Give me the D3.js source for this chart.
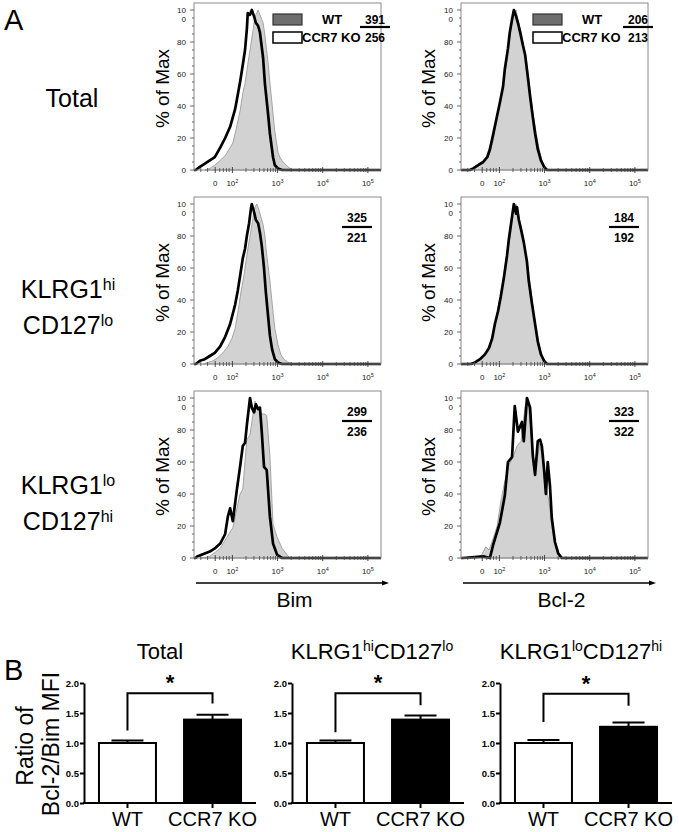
<!DOCTYPE html>
<html><head><meta charset="utf-8">
<script src="https://cdn.jsdelivr.net/npm/d3@7"></script>
<style>
body{margin:0;background:#fff}
svg{display:block}
text{font-family:"Liberation Sans",Arial,Helvetica,sans-serif}
</style>
</head><body>
<svg id="chart" width="679" height="832"></svg>
<script>
// ---------------- DATA ----------------
// Panel A: histograms, x = position in display decades (biexponential axis), y = % of Max
const rowLabels = [["Total"], ["KLRG1","hi","CD127","lo"], ["KLRG1","lo","CD127","hi"]];
const markerNames = ["Bim", "Bcl-2"];
const legendNames = ["WT", "CCR7 KO"];
const xTickValues = [1.62, 2, 3, 4, 5];
const xTickBase = ["0", "10", "10", "10", "10"];
const xTickExp = ["", "2", "3", "4", "5"];
const yTickValues = [0, 20, 40, 60, 80, 100];

const mfiWT = [[391, 206], [325, 184], [299, 323]];
const mfiKO = [[256, 213], [221, 192], [236, 322]];

const bimKO_total = [[1.19,0],[1.28,2],[1.39,4],[1.50,6],[1.61,8],[1.73,14],[1.84,20],[1.95,27],[2.06,38],[2.10,44],[2.17,55],[2.21,62],[2.28,75],[2.32,88],[2.34,98],[2.39,97],[2.43,100],[2.48,96],[2.52,92],[2.57,90],[2.61,86],[2.68,70],[2.72,54],[2.79,35],[2.83,23],[2.90,8],[2.94,3],[3.01,1],[3.10,0]];
const bimWT_total = [[1.39,0],[1.50,1],[1.61,3],[1.73,6],[1.84,9],[1.95,14],[2.01,17],[2.08,25],[2.17,37],[2.23,48],[2.28,54],[2.34,66],[2.39,75],[2.46,88],[2.50,96],[2.54,98],[2.57,100],[2.61,97],[2.65,94],[2.68,92],[2.72,84],[2.79,67],[2.83,55],[2.90,35],[2.94,24],[3.01,11],[3.05,8],[3.12,5],[3.16,4],[3.23,2],[3.32,0]];
const bclKO_total = [[1.19,0],[1.35,0],[1.42,1],[1.53,3],[1.64,5],[1.73,8],[1.79,13],[1.86,22],[1.92,30],[2.01,42],[2.08,52],[2.12,63],[2.19,76],[2.23,86],[2.28,94],[2.32,100],[2.37,96],[2.41,92],[2.46,86],[2.52,78],[2.57,72],[2.63,58],[2.68,46],[2.74,33],[2.79,23],[2.85,13],[2.92,6],[2.99,2],[3.05,0]];
const bclWT_total = [[1.28,0],[1.46,1],[1.57,3],[1.68,5],[1.77,9],[1.86,18],[1.92,28],[2.01,42],[2.08,53],[2.15,66],[2.21,80],[2.28,93],[2.32,99],[2.37,100],[2.41,94],[2.48,86],[2.54,78],[2.61,66],[2.68,50],[2.74,36],[2.81,24],[2.88,13],[2.94,6],[3.01,2],[3.10,0]];

const bimKO_hilo = [[1.19,0],[1.28,2],[1.39,3],[1.50,5],[1.61,7],[1.73,11],[1.84,17],[1.95,25],[2.06,37],[2.12,46],[2.17,55],[2.23,66],[2.28,72],[2.32,80],[2.37,88],[2.41,97],[2.43,100],[2.48,95],[2.52,90],[2.57,88],[2.61,82],[2.65,74],[2.70,60],[2.74,45],[2.79,30],[2.83,18],[2.88,9],[2.94,3],[3.01,1],[3.10,0]];
const bimWT_hilo = [[1.35,0],[1.46,1],[1.57,2],[1.68,4],[1.79,7],[1.90,11],[1.99,16],[2.06,22],[2.12,32],[2.19,45],[2.26,56],[2.32,68],[2.39,80],[2.46,92],[2.50,98],[2.54,100],[2.59,96],[2.63,92],[2.68,87],[2.72,80],[2.76,68],[2.83,52],[2.88,38],[2.94,22],[3.01,12],[3.07,6],[3.14,3],[3.23,1],[3.32,0]];
const bclKO_hilo = [[1.19,0],[1.37,0],[1.46,1],[1.57,3],[1.68,6],[1.77,10],[1.84,16],[1.90,25],[1.97,33],[2.03,42],[2.10,54],[2.17,68],[2.21,78],[2.26,88],[2.30,96],[2.32,100],[2.37,94],[2.39,98],[2.43,90],[2.48,84],[2.54,76],[2.61,64],[2.65,52],[2.72,38],[2.79,25],[2.85,14],[2.92,6],[2.99,2],[3.05,0]];
const bclWT_hilo = [[1.28,0],[1.44,1],[1.55,3],[1.66,5],[1.75,9],[1.84,16],[1.92,28],[2.01,41],[2.08,53],[2.15,66],[2.21,80],[2.28,92],[2.32,98],[2.37,100],[2.41,95],[2.48,86],[2.54,77],[2.61,64],[2.68,50],[2.74,36],[2.81,23],[2.88,12],[2.94,5],[3.01,2],[3.10,0]];

const bimKO_lohi = [[1.19,0],[1.22,1],[1.50,4],[1.61,6],[1.73,9],[1.84,15],[1.90,26],[1.95,31],[2.01,23],[2.10,43],[2.17,57],[2.23,70],[2.28,72],[2.32,83],[2.39,100],[2.43,94],[2.48,91],[2.52,96],[2.57,93],[2.61,94],[2.65,79],[2.70,57],[2.76,55],[2.83,26],[2.90,9],[2.99,2],[3.10,0]];
const bimWT_lohi = [[1.30,0],[1.50,1],[1.73,6],[1.88,13],[2.01,19],[2.17,40],[2.23,43],[2.32,74],[2.39,77],[2.50,98],[2.57,94],[2.65,90],[2.72,90],[2.76,89],[2.83,64],[2.90,21],[2.99,13],[3.10,6],[3.21,2],[3.27,0]];
const bclKO_lohi = [[1.19,0],[1.64,1],[1.79,0],[1.86,8],[2.01,22],[2.12,39],[2.19,60],[2.28,63],[2.34,95],[2.41,79],[2.50,85],[2.54,73],[2.61,100],[2.68,94],[2.74,64],[2.79,52],[2.85,73],[2.90,74],[2.94,70],[2.99,55],[3.03,40],[3.07,60],[3.12,45],[3.16,25],[3.23,10],[3.30,3],[3.38,0]];
const bclWT_lohi = [[1.19,0],[1.50,0],[1.61,2],[1.70,7],[1.77,5],[1.86,12],[1.95,20],[2.03,35],[2.12,48],[2.21,58],[2.30,63],[2.39,70],[2.48,73],[2.57,95],[2.63,98],[2.70,80],[2.76,55],[2.83,60],[2.90,72],[2.96,60],[3.03,45],[3.10,35],[3.16,20],[3.23,10],[3.32,3],[3.41,0]];

// Panel B: Bcl-2/Bim MFI ratio
const barCategories = ["WT", "CCR7 KO"];
const barMeanWT = [1.00, 1.00, 1.00];
const barErrWT = [0.04, 0.04, 0.05];
const barMeanKO = [1.39, 1.39, 1.27];
const barErrKO = [0.08, 0.07, 0.07];
const bracketTop = [1.83, 1.83, 1.82];
const bracketWTLeg = [1.21, 1.18, 1.35];
const bracketKOLeg = [1.66, 1.63, 1.62];
const barTicks = [0, 0.5, 1.0, 1.5, 2.0];

// ---------------- LAYOUT ----------------
const svg = d3.select("#chart");
const FONT = '"Liberation Sans",Arial,Helvetica,sans-serif';
const colX = [194, 461];
const rowBase = [170, 364, 558];
const frameW = 187, frameH = 167, plotH = 160;

const x = d3.scaleLinear().domain([1.15, 5.29]).range([0, frameW]);
const y = d3.scaleLinear().domain([0, 100]).range([0, -plotH]);

const hist = [
  [[bimWT_total, bimKO_total], [bclWT_total, bclKO_total]],
  [[bimWT_hilo, bimKO_hilo], [bclWT_hilo, bclKO_hilo]],
  [[bimWT_lohi, bimKO_lohi], [bclWT_lohi, bclKO_lohi]]
];

// panel letters
svg.append("text").attr("x", 4).attr("y", 30).attr("font-size", 29).text("A");
svg.append("text").attr("x", 4).attr("y", 680).attr("font-size", 29).text("B");

// row labels
function supText(sel, parts, supSize) {
  parts.forEach((p, i) => {
    const t = sel.append("tspan").text(p);
    if (i % 2 === 1) t.attr("font-size", supSize).attr("baseline-shift", "super");
  });
}
const rowLabelY = [[107], [298, 334], [494, 530]];
rowLabels.forEach((parts, r) => {
  if (parts.length === 1) {
    svg.append("text").attr("x", 72).attr("y", rowLabelY[r][0]).attr("text-anchor", "middle")
      .attr("font-size", 25).text(parts[0]);
  } else {
    for (let k = 0; k < 2; k++) {
      const t = svg.append("text").attr("x", 68).attr("y", rowLabelY[r][k]).attr("text-anchor", "middle")
        .attr("font-size", 25);
      supText(t, [parts[2 * k], parts[2 * k + 1]], 16);
    }
  }
});

const areaGen = d3.area().x(d => x(d[0])).y0(y(0)).y1(d => y(d[1]));
const lineGen = d3.line().x(d => x(d[0])).y(d => y(d[1]));
const xDom = x.domain();

for (let r = 0; r < 3; r++) {
  for (let c = 0; c < 2; c++) {
    const g = svg.append("g").attr("transform", `translate(${colX[c]},${rowBase[r]})`);
    const [wt, ko] = hist[r][c];
    // WT filled
    g.append("path").datum(wt).attr("d", areaGen).attr("fill", "#d2d2d2")
      .attr("stroke", "#9c9c9c").attr("stroke-width", 0.9);
    // KO line (continues along baseline to the frame edges)
    const koFull = [[xDom[0], 0]].concat(ko, [[xDom[1], 0]]);
    g.append("path").datum(koFull).attr("d", lineGen).attr("fill", "none")
      .attr("stroke", "#000").attr("stroke-width", 2.7).attr("stroke-linejoin", "round");
    // frame
    g.append("rect").attr("x", 0).attr("y", -frameH).attr("width", frameW).attr("height", frameH)
      .attr("fill", "none").attr("stroke", "#8a8a8a").attr("stroke-width", 1);
    // y ticks
    d3.range(0, 101, 5).forEach(v => {
      g.append("line").attr("x1", 0).attr("x2", v % 20 === 0 ? -4 : -2)
        .attr("y1", y(v)).attr("y2", y(v)).attr("stroke", "#444").attr("stroke-width", 0.8);
    });
    yTickValues.forEach(v => {
      if (v === 100) {
        g.append("text").attr("x", -8).attr("y", y(v) + 3).attr("text-anchor", "end")
          .attr("font-size", 8).attr("fill", "#222").text("10");
        g.append("text").attr("x", -8).attr("y", y(v) + 12).attr("text-anchor", "end")
          .attr("font-size", 8).attr("fill", "#222").text("0");
      } else {
        g.append("text").attr("x", -8).attr("y", y(v) + 3).attr("text-anchor", "end")
          .attr("font-size", 8).attr("fill", "#222").text(v);
      }
    });
    // x ticks: major + log minor
    const minor = [];
    [2, 3, 4].forEach(d => d3.range(2, 10).forEach(k => minor.push(d + Math.log10(k))));
    [1.3, 1.45, 1.72, 1.8, 1.87, 1.93].forEach(v => minor.push(v));
    minor.forEach(v => g.append("line").attr("x1", x(v)).attr("x2", x(v)).attr("y1", -2).attr("y2", 2)
      .attr("stroke", "#444").attr("stroke-width", 0.8));
    xTickValues.forEach((v, i) => {
      g.append("line").attr("x1", x(v)).attr("x2", x(v)).attr("y1", -3).attr("y2", 3)
        .attr("stroke", "#333").attr("stroke-width", 0.9);
      const t = g.append("text").attr("x", x(v)).attr("y", 16).attr("text-anchor", "middle")
        .attr("font-size", 8).attr("fill", "#222");
      t.append("tspan").text(xTickBase[i]);
      if (xTickExp[i]) t.append("tspan").attr("font-size", 5.5).attr("dy", -3).text(xTickExp[i]);
    });
    // y label
    g.append("text").attr("transform", `translate(${c === 0 ? -25 : -26},${-frameH / 2 + 2}) rotate(-90)`)
      .attr("text-anchor", "middle").attr("font-size", 19).text("% of Max");
    // MFI numbers
    const numX = r === 0 ? (c === 0 ? 181 : 177) : 163;
    const y1 = r === 0 ? -frameH + 21 : -frameH + 25;
    const y2 = r === 0 ? -frameH + 39 : -frameH + 45;
    const ly = r === 0 ? -frameH + 24 : -frameH + 30;
    g.append("text").attr("x", numX).attr("y", y1).attr("text-anchor", "middle")
      .attr("font-size", 12).attr("font-weight", "bold").text(mfiWT[r][c]);
    g.append("line").attr("x1", numX - 15).attr("x2", numX + 15).attr("y1", ly).attr("y2", ly)
      .attr("stroke", "#000").attr("stroke-width", 2.2);
    g.append("text").attr("x", numX).attr("y", y2).attr("text-anchor", "middle")
      .attr("font-size", 12).attr("font-weight", "bold").text(mfiKO[r][c]);
    // legend
    if (r === 0) {
      const lx = c === 0 ? 79 : 72;
      g.append("rect").attr("x", lx).attr("y", -frameH + 11).attr("width", 29).attr("height", 11)
        .attr("fill", "#6e6e6e").attr("stroke", "#333").attr("stroke-width", 1.2);
      g.append("rect").attr("x", lx).attr("y", -frameH + 29).attr("width", 29).attr("height", 11)
        .attr("fill", "#fff").attr("stroke", "#000").attr("stroke-width", 1.5);
      g.append("text").attr("x", lx + 49).attr("y", -frameH + 21).attr("font-size", 13)
        .attr("font-weight", "bold").text(legendNames[0]);
      g.append("text").attr("x", lx + 29).attr("y", -frameH + 39).attr("font-size", 13)
        .attr("font-weight", "bold").text(legendNames[1]);
    }
    // bottom axis arrow + title
    if (r === 2) {
      const ay = 25;
      g.append("line").attr("x1", 2).attr("x2", frameW + 4).attr("y1", ay).attr("y2", ay)
        .attr("stroke", "#000").attr("stroke-width", 1.5);
      g.append("path").attr("d", `M${frameW + 8},${ay} L${frameW + 1},${ay - 2.5} L${frameW + 1},${ay + 2.5} Z`)
        .attr("fill", "#000");
      g.append("text").attr("x", frameW / 2 + 7).attr("y", 49).attr("text-anchor", "middle")
        .attr("font-size", 21).text(markerNames[c]);
    }
  }
}

// ---------------- PANEL B ----------------
const barAxisX = [84, 292, 500];
const yb = d3.scaleLinear().domain([0, 2]).range([803, 683]);
const xb = d3.scaleBand().domain(barCategories).range([0, 172]).paddingInner(0.33).paddingOuter(0.176);

svg.append("text").attr("transform", "translate(33,746) rotate(-90)").attr("text-anchor", "middle")
  .attr("font-size", 23).text("Ratio of");
svg.append("text").attr("transform", "translate(59,744) rotate(-90)").attr("text-anchor", "middle")
  .attr("font-size", 23).text("Bcl-2/Bim MFI");

const titleCenters = [160, 372, 581];
rowLabels.forEach((parts, i) => {
  const t = svg.append("text").attr("x", titleCenters[i]).attr("y", 659).attr("text-anchor", "middle")
    .attr("font-size", 22);
  supText(t, parts, 14);
});

for (let i = 0; i < 3; i++) {
  const g = svg.append("g").attr("transform", `translate(${barAxisX[i]},0)`);
  const means = [barMeanWT[i], barMeanKO[i]];
  const errs = [barErrWT[i], barErrKO[i]];
  barCategories.forEach((cat, j) => {
    const cx = xb(cat) + xb.bandwidth() / 2;
    // error bar (upper)
    g.append("line").attr("x1", cx).attr("x2", cx).attr("y1", yb(means[j])).attr("y2", yb(means[j] + errs[j]))
      .attr("stroke", "#000").attr("stroke-width", 2);
    g.append("line").attr("x1", cx - 16).attr("x2", cx + 16).attr("y1", yb(means[j] + errs[j]))
      .attr("y2", yb(means[j] + errs[j])).attr("stroke", "#000").attr("stroke-width", 2);
    g.append("rect").attr("x", xb(cat)).attr("y", yb(means[j])).attr("width", xb.bandwidth())
      .attr("height", yb(0) - yb(means[j])).attr("fill", j === 0 ? "#fff" : "#000")
      .attr("stroke", "#000").attr("stroke-width", 2);
    // category tick and label
    g.append("line").attr("x1", cx).attr("x2", cx).attr("y1", yb(0)).attr("y2", yb(0) + 5)
      .attr("stroke", "#000").attr("stroke-width", 2);
    g.append("text").attr("x", cx).attr("y", 826).attr("text-anchor", "middle")
      .attr("font-size", 20).text(cat);
  });
  // axes
  const ax = g.append("g").call(d3.axisLeft(yb).tickValues(barTicks).tickFormat(d3.format(".1f")).tickSize(4).tickSizeOuter(0));
  ax.select(".domain").attr("stroke-width", 2);
  ax.selectAll(".tick line").attr("stroke-width", 2);
  ax.selectAll(".tick text").attr("font-size", 9.5).attr("font-weight", "bold")
    .attr("font-family", FONT).attr("x", -5);
  g.append("line").attr("x1", -1).attr("x2", 172).attr("y1", yb(0)).attr("y2", yb(0))
    .attr("stroke", "#000").attr("stroke-width", 2);
  // significance bracket
  const wx = xb("WT") + xb.bandwidth() / 2, kx = xb("CCR7 KO") + xb.bandwidth() / 2;
  g.append("path")
    .attr("d", `M${wx},${yb(bracketWTLeg[i])} L${wx},${yb(bracketTop[i])} L${kx},${yb(bracketTop[i])} L${kx},${yb(bracketKOLeg[i])}`)
    .attr("fill", "none").attr("stroke", "#000").attr("stroke-width", 2);
  g.append("text").attr("x", (wx + kx) / 2).attr("y", yb(bracketTop[i]) - 3).attr("text-anchor", "middle")
    .attr("font-size", 22).attr("font-weight", "bold").text("*");
}
</script>
</body></html>
